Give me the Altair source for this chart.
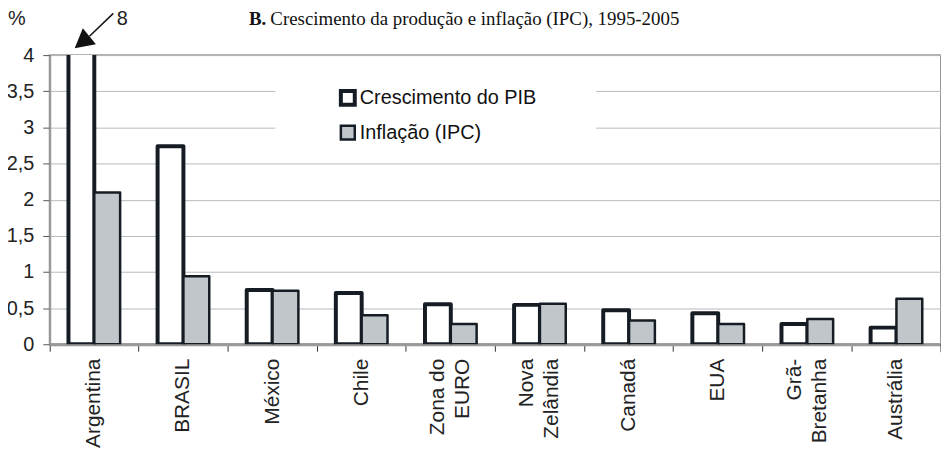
import altair as alt
import pandas as pd

# ---- data ----
paises = ["Argentina", "BRASIL", "México", "Chile", "Zona do EURO",
          "Nova Zelândia", "Canadá", "EUA", "Grã-Bretanha", "Austrália"]
crescimento_pib = [8.0, 2.74, 0.75, 0.71, 0.555, 0.545, 0.47, 0.43, 0.28, 0.23]
inflacao_ipc = [2.10, 0.94, 0.74, 0.40, 0.28, 0.56, 0.33, 0.28, 0.35, 0.63]
series = ["Crescimento do PIB", "Inflação (IPC)"]
quebras = {"Zona do EURO": ["Zona do", "EURO"],
           "Nova Zelândia": ["Nova", "Zelândia"],
           "Grã-Bretanha": ["Grã-", "Bretanha"]}
y_ticks = [0, 0.5, 1, 1.5, 2, 2.5, 3, 3.5, 4]

rows = []
for p, a, b in zip(paises, crescimento_pib, inflacao_ipc):
    rows.append({"pais": p, "serie": series[0], "valor": a})
    rows.append({"pais": p, "serie": series[1], "valor": b})
df = pd.DataFrame(rows)

FONT = "Liberation Sans"
DARK = "#161c24"
GREY = "#c0c6c9"

label_expr = ""
for k, v in quebras.items():
    label_expr += "datum.label == '%s' ? ['%s','%s'] : " % (k, v[0], v[1])
label_expr += "datum.label"
multi_test = "indexof([%s], datum.value) >= 0" % ",".join("'%s'" % k for k in quebras)

W, H = 897, 291

bars = alt.Chart(df).mark_bar(clip=True, stroke=DARK, strokeJoin="round").encode(
    x=alt.X("pais:N", sort=paises, title=None,
            scale=alt.Scale(paddingInner=0, paddingOuter=0),
            axis=alt.Axis(labelAngle=270, labelExpr=label_expr, bandPosition=0,
                          labelFontSize=21, labelFont=FONT, labelColor="#222",
                          labelLineHeight=25, labelPadding=7,
                          labelOffset={"condition": {"test": multi_test, "value": -12.5},
                                       "value": 0},
                          tickSize=7, tickColor="#333", domainColor="#999",
                          domainWidth=3, grid=False)),
    xOffset=alt.XOffset("serie:N", sort=series,
                        scale=alt.Scale(domain=series, paddingInner=0, paddingOuter=0.725)),
    y=alt.Y("valor:Q", title=None,
            scale=alt.Scale(domain=[0, 4], nice=False),
            axis=alt.Axis(values=y_ticks,
                          labelExpr="replace(toString(datum.value), '.', ',')",
                          labelFontSize=20, labelFont=FONT, labelColor="#222",
                          labelPadding=9, tickSize=7, tickColor="#555",
                          domainColor="#999", domainWidth=2,
                          gridColor="#b5b9bc", gridWidth=1)),
    fill=alt.Fill("serie:N", sort=series,
                  scale=alt.Scale(domain=series, range=["#ffffff", GREY]),
                  legend=alt.Legend(title=None, orient="none", legendX=290, legendY=33,
                                    symbolType="square", symbolSize=196,
                                    symbolStrokeColor=DARK, symbolStrokeWidth=3,
                                    labelFont=FONT, labelLimit=400,
                                    labelFontSize=20, labelColor="#111",
                                    rowPadding=8, labelOffset=2, padding=0)),
    strokeWidth=alt.StrokeWidth("serie:N", sort=series,
                                scale=alt.Scale(domain=series, range=[4, 2.5]),
                                legend=None),
)

one = pd.DataFrame({"k": [0]})

legend_bg = alt.Chart(one).mark_rect(fill="white").encode(
    x=alt.value(227), x2=alt.value(550), y=alt.value(16), y2=alt.value(96))

end_tick = alt.Chart(one).mark_rule(color="#333", strokeWidth=1).encode(
    x=alt.value(W), y=alt.value(H), y2=alt.value(H + 8))

pct = alt.Chart(one).mark_text(text="%", font=FONT, fontSize=20, color="#222",
                               align="center", baseline="middle").encode(
    x=alt.value(-33), y=alt.value(-36))
eight = alt.Chart(one).mark_text(text="8", font=FONT, fontSize=20, color="#222",
                                 align="center", baseline="middle").encode(
    x=alt.value(73), y=alt.value(-36))
arrow_line = alt.Chart(one).mark_rule(color="#111", strokeWidth=1.5).encode(
    x=alt.value(64), y=alt.value(-42), x2=alt.value(40), y2=alt.value(-19))
arrow_head = alt.Chart(one).mark_point(shape="M0,-1L1.1,1L-1.1,1Z", filled=True,
                                       color="#111", opacity=1, size=361,
                                       angle=231).encode(
    x=alt.value(32.5), y=alt.value(-13))

title_b = alt.Chart(one).mark_text(text="B.", font="Liberation Serif", fontSize=19,
                                   fontWeight="bold", color="#111",
                                   align="right", baseline="alphabetic").encode(
    x=alt.value(218), y=alt.value(-30))
title_rest = alt.Chart(one).mark_text(
    text="Crescimento da produção e inflação (IPC), 1995-2005",
    font="Liberation Serif", fontSize=19, color="#111",
    align="left", baseline="alphabetic").encode(
    x=alt.value(222), y=alt.value(-30))

chart = alt.layer(legend_bg, bars, end_tick, pct, eight, arrow_line, arrow_head,
                  title_b, title_rest).properties(
    width=W, height=H,
    autosize=alt.AutoSizeParams(type="none"),
    padding={"left": 42, "top": 46, "right": 0, "bottom": 106},
).configure_view(stroke="#9a9a9a", strokeWidth=2)

chart.save("out.html", embed_options={"renderer": "svg", "actions": False})
